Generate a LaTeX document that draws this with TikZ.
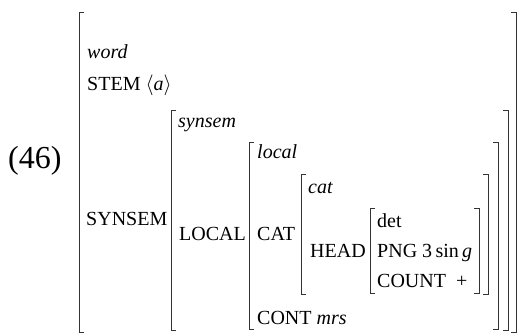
\documentclass[tikz,border=0pt]{standalone}
\usepackage{fontspec}
\setmainfont{Liberation Serif}
\tikzset{brk/.style={draw=black!80,line width=0.9pt}, attr/.style={anchor=base west,inner sep=0pt,font=\fontsize{20}{24}\selectfont}, typ/.style={attr,font=\fontsize{20}{24}\selectfont\itshape}}
\begin{document}
\begin{tikzpicture}[x=1pt,y=-1pt]
\useasboundingbox (0,0) rectangle (517,333);
% brackets: left/top/right/bottom
\foreach \l/\t/\r/\b in {79/12/516/332, 171/110/508/330, 249/142/498/329, 301/174/488/294, 370/208/479/293}{
  \draw[brk] (\l+5,\t) -| (\l,\b) -- ++(5,0);
  \draw[brk] (\r-5,\t) -| (\r,\b) -- ++(-5,0);
}
\node[attr,font=\fontsize{32}{38}\selectfont] (num) at (8,168) {(46)};
\node[typ] (word) at (87,58) {word};
\node[attr] (stem) at (87,90) {STEM $\big\langle$\textit{a}$\big\rangle$};
\node[typ] (synsemT) at (178,127) {synsem};
\node[attr] (synsem) at (86,225) {SYNSEM};
\node[typ] (localT) at (257,158) {local};
\node[attr] (local) at (179,240) {LOCAL};
\node[attr] (cat) at (257,240) {CAT};
\node[typ] (catT) at (308,193) {cat};
\node[attr] (head) at (310,257) {HEAD};
\node[attr] (det) at (377,227) {det};
\node[attr] (png) at (377,257) {PNG 3\,sin\,\textit{g}};
\node[attr] (count) at (377,287) {COUNT~~+};
\node[attr] (cont) at (257,324) {CONT \textit{mrs}};
\end{tikzpicture}
\end{document}
